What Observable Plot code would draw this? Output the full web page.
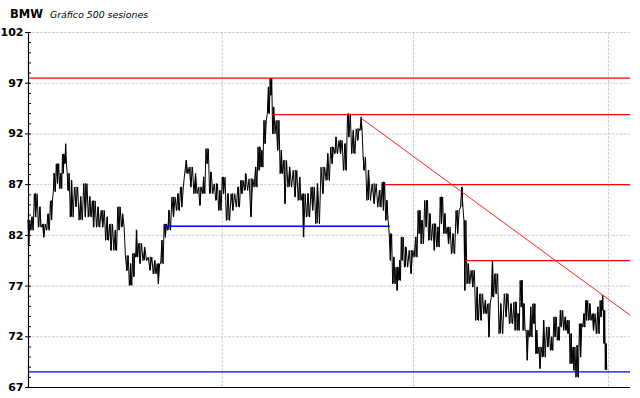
<!DOCTYPE html>
<html>
<head>
<meta charset="utf-8">
<script src="https://cdn.jsdelivr.net/npm/d3@7"></script>
<script src="https://cdn.jsdelivr.net/npm/@observablehq/plot@0.6"></script>
<style>
  html, body { margin: 0; padding: 0; background: #fff; }
  #wrap { position: relative; width: 640px; height: 398px; }
  #title { position: absolute; left: 10px; top: 3px; font-family: "DejaVu Sans", sans-serif; white-space: nowrap; }
  #title b { font-size: 11.5px; font-weight: bold; }
  #title i { font-size: 9.4px; margin-left: 7px; }
</style>
</head>
<body>
<div id="wrap"><div id="title"><b>BMW</b><i>Gráfico 500 sesiones</i></div></div>
<script>
// session index (0..499) of each traced bar
const sess = [
  0,3,6,10,13,17,20,22,25,28,
  30,32,34,37,41,45,49,53,56,60,
  64,68,71,75,78,81,85,88,91,93,
  96,100,105,109,112,115,118,121,125,129,
  132,136,140,144,148,151,154,157,162,165,
  168,172,176,181,184,187,192,196,199,201,
  204,207,209,211,215,218,221,225,230,234,
  237,241,245,249,254,258,262,265,269,273,
  276,280,284,287,289,293,298,303,306,309,
  312,315,318,320,322,325,330,334,337,339,
  343,346,350,353,356,359,362,366,370,374,
  376,379,383,387,390,394,397,400,403,407,
  412,416,420,422,425,427,430,433,436,438,
  441,444,448,451,454,457,459,463,465,468,
  470,473,476,479,481,484,487,491,494,495,
  496,498
];
const high = [
  83.5,83.8,86.1,84.8,83.1,84.1,85.4,88.1,89.05,88.1,
  90.0,91.0,88.1,87.4,86.75,85.8,87.1,85.8,85.4,84.8,
  84.45,83.8,83.1,82.5,84.8,84.1,80.0,79.2,80.2,82.5,
  81.2,80.8,79.85,79.5,79.2,81.5,83.1,84.45,85.77,86.1,
  86.75,89.38,88.72,88.07,86.75,87.74,90.53,88.23,87.08,86.42,
  87.74,86.1,86.1,86.75,87.41,88.07,87.57,88.72,90.7,90.37,
  93.33,96.6,97.45,94.64,93.33,90.37,89.38,88.72,88.4,87.74,
  86.1,86.1,86.75,87.08,88.72,90.04,90.7,91.68,91.35,91.02,
  93.98,92.34,92.5,93.65,89.7,88.4,87.08,86.42,87.24,85.44,
  82.15,79.85,78.86,79.52,81.82,80.84,80.51,81.82,84.45,83.47,
  85.44,84.12,83.14,82.81,85.77,84.12,82.81,82.15,84.45,86.75,
  83.47,79.19,78.54,76.89,76.23,75.58,75.25,79.52,78.21,75.25,
  76.24,75.25,75.42,74.27,77.55,75.25,72.62,74.93,75.25,72.62,
  70.98,73.61,72.95,71.97,73.94,72.95,74.6,73.94,73.61,72.3,
  70.98,71.15,73.28,74.27,75.58,75.25,74.27,74.93,75.58,76.07,
  74.6,71.31
];
const low = [
  81.0,82.5,83.8,82.8,81.8,82.5,83.5,86.3,87.1,86.6,
  88.1,89.05,86.4,83.8,84.8,83.5,83.8,83.8,82.8,82.8,
  82.8,81.5,80.5,80.5,82.5,82.8,78.5,77.06,77.9,79.85,
  79.2,79.5,78.54,78.2,77.2,79.2,81.8,82.5,83.8,84.45,
  84.78,88.07,86.75,86.1,84.94,86.1,89.05,86.1,85.44,84.45,
  86.1,83.47,84.45,84.78,86.1,86.42,83.8,86.75,88.4,88.72,
  91.02,93.98,95.8,92.0,90.37,88.07,85.11,86.75,85.77,85.44,
  81.82,83.8,84.45,83.14,86.1,87.41,89.05,90.04,90.04,88.4,
  91.68,90.04,91.35,92.34,88.4,85.44,85.11,84.78,84.45,83.47,
  79.52,77.22,76.56,77.55,79.52,78.86,78.21,79.85,82.15,81.16,
  82.81,81.5,80.51,80.84,83.14,82.15,81.16,80.18,82.15,84.78,
  76.56,77.22,76.89,73.6,73.6,74.26,71.96,75.9,76.23,72.3,
  73.94,73.28,72.62,72.62,74.93,72.62,69.67,71.97,73.28,70.32,
  68.85,69.99,70.98,70.65,71.97,71.64,72.95,72.62,72.3,69.34,
  68.68,68.0,69.99,72.95,73.61,73.61,72.62,72.3,73.94,74.6,
  71.31,68.75
];

// support / resistance levels: value and first session
const redLevels = [97.5, 93.9, 87.0, 79.5];
const redStart  = [0, 211, 308, 377];
const blueLevels = [82.9, 68.55];
const blueStart  = [118, 0];
const blueEnd    = [312, 519];
// downward trendline: [session, price]
const trendStart = [286, 93.62];
const trendEnd   = [519, 74.1];

const yTicks = [67, 72, 77, 82, 87, 92, 97, 102];
const xGrid = [167, 332, 500];
const lastSession = 519;

// each traced bar covers the span between midpoints to its neighbours
const bars = sess.map((s, i) => {
  const a = i > 0 ? (sess[i - 1] + s) / 2 : s - 0.8;
  const b = i < sess.length - 1 ? (sess[i + 1] + s) / 2 : s + 0.8;
  return {i, s, a, b, hi: high[i], lo: low[i]};
});
// scribble path through each bar's high and low (dense bar texture)
const path = bars.flatMap(d => {
  const w = d.b - d.a;
  const [p, q] = d.i % 2 ? [d.lo, d.hi] : [d.hi, d.lo];
  return [
    {x: d.a + 0.15 * w, y: p},
    {x: d.a + 0.5 * w, y: q},
    {x: d.a + 0.85 * w, y: p}
  ];
});
const reds = redLevels.map((v, i) => ({v, a: redStart[i], b: lastSession}));
const blues = blueLevels.map((v, i) => ({v, a: blueStart[i], b: blueEnd[i]}));
const minor = d3.range(67, 102.5, 1);

const W = 640, ML = 28, MR = 10;

const chart = Plot.plot({
  width: W,
  height: 398,
  marginTop: 32,
  marginBottom: 11,
  marginLeft: ML,
  marginRight: MR,
  style: {fontFamily: "DejaVu Sans, sans-serif", fontSize: "11px", fontWeight: "bold", color: "#000", background: "#fff"},
  x: {domain: [0, lastSession], axis: null},
  y: {domain: [67, 102], axis: null},
  marks: [
    // grid
    Plot.ruleY(yTicks, {stroke: "#e2bfe2", strokeDasharray: "3,5", strokeWidth: 1}),
    Plot.ruleY(yTicks, {stroke: "#bfe2bf", strokeDasharray: "3,5", strokeDashoffset: 4, strokeWidth: 1}),
    Plot.ruleX(xGrid, {stroke: "#e2bfe2", strokeDasharray: "3,5", strokeWidth: 1}),
    Plot.ruleX(xGrid, {stroke: "#bfe2bf", strokeDasharray: "3,5", strokeDashoffset: 4, strokeWidth: 1}),
    // price bars
    Plot.line(path, {x: "x", y: "y", stroke: "#000", strokeWidth: 1, curve: "linear"}),
    Plot.ruleX(bars, {x: "s", y1: "lo", y2: "hi", stroke: "#000", strokeWidth: 1.2}),
    // levels
    Plot.ruleY(reds, {y: "v", x1: "a", x2: "b", stroke: "#ff0000", strokeWidth: 1.3}),
    Plot.ruleY(blues, {y: "v", x1: "a", x2: "b", stroke: "#0000ff", strokeWidth: 1.3}),
    Plot.link([{t: trendStart, e: trendEnd}], {x1: d => d.t[0], y1: d => d.t[1], x2: d => d.e[0], y2: d => d.e[1], stroke: "#ff2020", strokeWidth: 1}),
    // axes
    Plot.ruleX([0], {stroke: "#000", strokeWidth: 1.2}),
    Plot.ruleY([67], {stroke: "#000", strokeWidth: 1.2}),
    Plot.tickY(minor, {y: d => d, stroke: "#000", insetRight: W - ML - MR - 3}),
    Plot.axisY({ticks: yTicks, tickSize: 3, tickPadding: 2, fontWeight: "bold", fontSize: 11, tickFormat: d3.format("d")})
  ]
});
chart.style.position = "absolute";
chart.style.left = "0";
chart.style.top = "0";
document.getElementById("wrap").prepend(chart);
</script>
</body>
</html>
